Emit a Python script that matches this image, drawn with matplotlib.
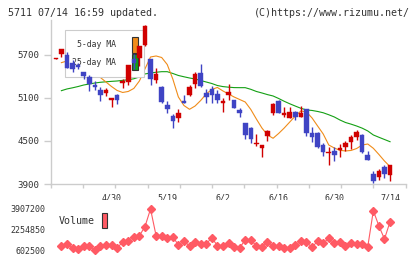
import matplotlib
matplotlib.use("Agg")
import matplotlib.pyplot as plt
from matplotlib.patches import Patch
import numpy as np

# ---------------- data ----------------
opens = [5650, 5718, 5700, 5593, 5560, 5459, 5397, 5282, 5212, 5174, 5072, 5142, 5314, 5319, 5640,
         5654, 5840, 5640, 5351, 5258, 5003, 4849, 4826, 5058, 5142, 5296, 5453, 5174, 5226, 5156,
         5026, 5142, 5072, 4933, 4747, 4677, 4454, 4398, 4575, 4886, 5063, 4863, 4819, 4900, 4830,
         4947, 4616, 4616, 4444, 4328, 4361, 4375, 4421, 4491, 4560, 4584, 4305, 4040, 3998, 4133, 4026]
highs = [5656, 5784, 5742, 5630, 5593, 5467, 5421, 5337, 5258, 5235, 5096, 5156, 5361, 5560, 5710,
         5826, 6119, 5640, 5514, 5268, 5058, 4877, 4942, 5142, 5282, 5467, 5574, 5221, 5268, 5212,
         5096, 5296, 5072, 4956, 4747, 4700, 4598, 4444, 4654, 5026, 5072, 4970, 4980, 4923, 4989,
         4947, 4700, 4630, 4468, 4421, 4421, 4454, 4505, 4584, 4654, 4598, 4361, 4086, 4105, 4166, 4166]
lows = [5650, 5676, 5523, 5467, 5500, 5361, 5202, 5212, 5063, 5128, 4979, 5012, 5235, 5282, 5500,
        5551, 5826, 5282, 5314, 5026, 4895, 4686, 4770, 5026, 5128, 5235, 5258, 5035, 5035, 5035,
        4909, 5072, 4956, 4840, 4528, 4477, 4430, 4273, 4500, 4863, 4886, 4840, 4819, 4793, 4830,
        4570, 4491, 4398, 4291, 4166, 4226, 4282, 4361, 4384, 4514, 4337, 4235, 3919, 3956, 3980, 3947]
closes = [5656, 5784, 5523, 5500, 5537, 5411, 5291, 5258, 5146, 5212, 5096, 5072, 5342, 5560, 5584,
          5826, 6105, 5361, 5435, 5049, 4947, 4784, 4895, 5035, 5249, 5435, 5268, 5118, 5142, 5072,
          5063, 5188, 4965, 4895, 4584, 4528, 4468, 4444, 4640, 5012, 4891, 4895, 4910, 4830, 4895,
          4616, 4551, 4421, 4351, 4351, 4305, 4398, 4468, 4560, 4626, 4351, 4235, 3947, 4086, 4040, 4166]

ma5 = [5593, 5616, 5602, 5574, 5533, 5491, 5435, 5386, 5323, 5260,
       5205, 5177, 5191, 5233, 5337, 5505, 5672, 5686, 5665, 5567,
       5365, 5114, 4995, 4942, 4988, 5065, 5156, 5219, 5247, 5198,
       5156, 5114, 5079, 5044, 4940, 4807, 4681, 4584, 4538, 4605,
       4681, 4765, 4849, 4919, 4905, 4821, 4709, 4598, 4444, 4402,
       4370, 4361, 4368, 4395, 4444, 4458, 4398, 4312, 4221, 4142]
ma25 = [5202, 5226, 5242, 5260, 5281, 5295, 5309, 5319, 5326, 5332,
        5337, 5346, 5354, 5368, 5393, 5435, 5449, 5459, 5467, 5467,
        5442, 5414, 5396, 5379, 5365, 5344, 5323, 5302, 5274, 5259,
        5251, 5245, 5244, 5244, 5221, 5191, 5170, 5147, 5128, 5093,
        5054, 5019, 4987, 4956, 4933, 4926, 4912, 4894, 4866, 4835,
        4793, 4758, 4735, 4709, 4679, 4640, 4584, 4552, 4521, 4490]
volume = [949000, 1110000, 740000, 683000, 925000, 949000, 602500, 925000, 1005000, 1005000,
          788000, 1223000, 1328000, 1675000, 1755000, 2481000, 3907200, 1755000, 1755000, 1546000,
          1675000, 1005000, 1328000, 925000, 1223000, 1086000, 1086000, 1594000, 949000, 949000,
          1143000, 868000, 788000, 1408000, 1408000, 949000, 868000, 1223000, 949000, 949000,
          740000, 740000, 1005000, 1328000, 1223000, 820000, 1328000, 1143000, 1546000, 1143000,
          1223000, 949000, 1143000, 1062000, 1062000, 868000, 3770000, 2537000, 1489000, 2883000]

date_labels = ["4/30", "5/19", "6/2", "6/16", "6/30", "7/14"]
date_label_idx = [9, 19, 29, 39, 49, 59]
price_ticks = [3900, 4500, 5100, 5700]

# ---------------- styling ----------------
RED = "#d00000"
BLUE = "#3f44c4"
ORANGE = "#f08c1a"
GREEN = "#14a014"
VOLC = "#ff5a64"
AXC = "#cccccc"
TXT = "#333333"
MONO = "DejaVu Sans Mono"

W, H = 420, 259
fig = plt.figure(figsize=(W / 100, H / 100), dpi=100)
fig.patch.set_facecolor("white")


def rect(l, t, r, b):
    return [l / W, 1 - b / H, (r - l) / W, (b - t) / H]


ax = fig.add_axes(rect(50.7, 20, 405.7, 184))
axv = fig.add_axes(rect(50.7, 200, 405.7, 256))

n = len(closes)
cx = np.arange(-1, n - 1)
mx = np.arange(len(ma5))
vx = np.arange(len(volume))

o = np.array(opens, float)
c = np.array(closes, float)
up = c >= o
cols = [RED if u else BLUE for u in up]
bot = np.minimum(o, c)
hgt = np.maximum(np.abs(c - o), 6)

ax.plot(mx, ma25, color=GREEN, lw=0.8, zorder=1)
ax.plot(mx, ma5, color=ORANGE, lw=0.8, zorder=1)
ax.vlines(cx, lows, highs, colors=cols, lw=1.0, zorder=3)
ax.bar(cx, hgt, bottom=bot, width=0.82, color=cols, edgecolor=cols, linewidth=0.3, zorder=3.1)

xlim = (-1.92, 61.81)
ax.set_xlim(*xlim)
ax.set_ylim(3900, 6188)

for s in ["top", "right"]:
    ax.spines[s].set_visible(False)
for s in ["left", "bottom"]:
    ax.spines[s].set_color(AXC)
    ax.spines[s].set_linewidth(1.0)

ax.set_yticks(price_ticks)
ax.set_yticklabels([str(t) for t in price_ticks], family=MONO, fontsize=6.6, color=TXT)
ax.tick_params(axis="y", length=5.3, width=1.0, color=AXC, pad=2.9)

ax.set_xticks(np.linspace(xlim[0], xlim[1], 12))
ax.set_xticklabels([])
ax.tick_params(axis="x", which="major", length=3.2, width=1.0, color=AXC, direction="out")
ax.set_xticks(date_label_idx, minor=True)
ax.set_xticklabels(date_labels, minor=True, family=MONO, fontsize=6.0, color=TXT)
ax.tick_params(axis="x", which="minor", length=0, pad=7.0)

leg = ax.legend(handles=[Patch(fc=ORANGE, ec="#333333", lw=0.8), Patch(fc=GREEN, ec="#333333", lw=0.8)],
                labels=["5-day MA", "25-day MA"], markerfirst=False,
                loc="upper left", bbox_to_anchor=(0.0403, 0.939), borderaxespad=0,
                prop={"family": MONO, "size": 5.9}, frameon=True, fancybox=False,
                edgecolor=AXC, framealpha=1, handlelength=0.73, handleheight=2.62,
                handletextpad=1.95, labelspacing=0.16, borderpad=0.83)
leg.get_frame().set_linewidth(0.8)
for t in leg.get_texts():
    t.set_color(TXT)
leg.set_zorder(2.5)

# ---------------- volume ----------------
axv.plot(vx, volume, color=VOLC, lw=0.8, marker="D", ms=3.8, mec=VOLC, mfc=VOLC)
axv.set_xlim(*xlim)
vmin, vmax = min(volume), max(volume)
span = vmax - vmin
axv.set_ylim(vmin - span * 6 / 41, vmax + span * 9 / 41)
for s in axv.spines.values():
    s.set_visible(False)
axv.set_xticks([])
vt = [vmin, (vmin + vmax) / 2, vmax]
axv.set_yticks(vt)
axv.set_yticklabels([f"{int(v)}" for v in vt], family=MONO, fontsize=6.0, color=TXT)
axv.tick_params(axis="y", length=0, pad=4.1)

vleg = axv.legend(handles=[Patch(fc=VOLC, ec="#333333", lw=0.8)], labels=["Volume"], markerfirst=False,
                  loc="center left", bbox_to_anchor=(0.0214, 0.634), borderaxespad=0, borderpad=0,
                  prop={"family": MONO, "size": 7.2}, frameon=False, handlelength=0.56,
                  handleheight=1.93, handletextpad=0.74)
for t in vleg.get_texts():
    t.set_color(TXT)

# ---------------- header ----------------
fig.text(8 / W, 1 - 13.3 / H, "5711 07/14 16:59 updated.", family=MONO, fontsize=7.2,
         color=TXT, ha="left", va="center")
fig.text(410 / W, 1 - 13.3 / H, "(C)https://www.rizumu.net/", family=MONO, fontsize=7.2,
         color=TXT, ha="right", va="center")

fig.savefig("out.png", dpi=100, facecolor="white")
